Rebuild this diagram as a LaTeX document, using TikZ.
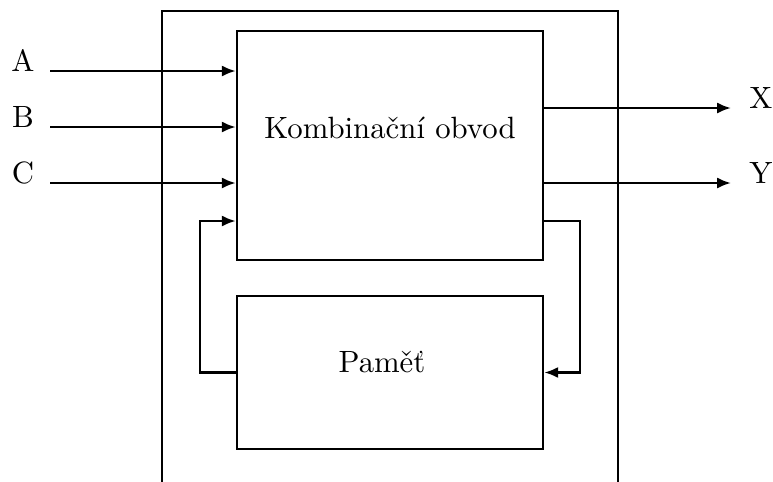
\documentclass[tikz,border=0pt]{standalone}
\usepackage{fontspec}
\usetikzlibrary{arrows.meta}
\begin{document}
\begin{tikzpicture}[x=0.325pt,y=-0.325pt,
  line/.style={line width=0.8pt},
  arr/.style={line width=0.8pt,-{Latex[length=4.5pt,width=3.6pt]}},
  block/.style={draw,line width=0.8pt,minimum width=99.45pt},
  lbl/.style={anchor=base,inner sep=0pt,font=\fontsize{10}{12}\selectfont}]
\useasboundingbox (0,0) rectangle (773,481);
% outer frame
\coordinate (fl) at (162,485);
\coordinate (fr) at (618,485);
\draw[line] (fl) -- (162,11) -- (618,11) -- (fr);
% blocks
\node[block,minimum height=74.4pt] (combo) at (390,145.5) {};
\node[block,minimum height=49.7pt] (mem) at (390,372.5) {};
\node[lbl] (kt) at (390,138) {Kombinační obvod};
\node[lbl] (mt) at (382,372) {Paměť};
% inputs
\node[lbl] (la) at (23,71) {A};
\node[lbl] (lb) at (23,127) {B};
\node[lbl] (lc) at (23,183) {C};
\coordinate (ia) at (50,71);
\coordinate (ib) at (50,127);
\coordinate (ic) at (50,183);
\draw[arr] (ia) -- (ia -| combo.west);
\draw[arr] (ib) -- (ib -| combo.west);
\draw[arr] (ic) -- (ic -| combo.west);
% outputs
\node[lbl] (lx) at (761,108) {X};
\node[lbl] (ly) at (761,183) {Y};
\coordinate (ox) at (731,108);
\coordinate (oy) at (731,183);
\draw[arr] (ox -| combo.east) -- (ox);
\draw[arr] (oy -| combo.east) -- (oy);
% feedback
\coordinate (fbin) at (237,221);
\coordinate (fbout) at (543,221);
\draw[arr] (mem.west) -- ++(-36,0) |- (fbin -| combo.west);
\draw[arr] (fbout -| combo.east) -- ++(36,0) |- (mem.east);
\end{tikzpicture}
\end{document}
